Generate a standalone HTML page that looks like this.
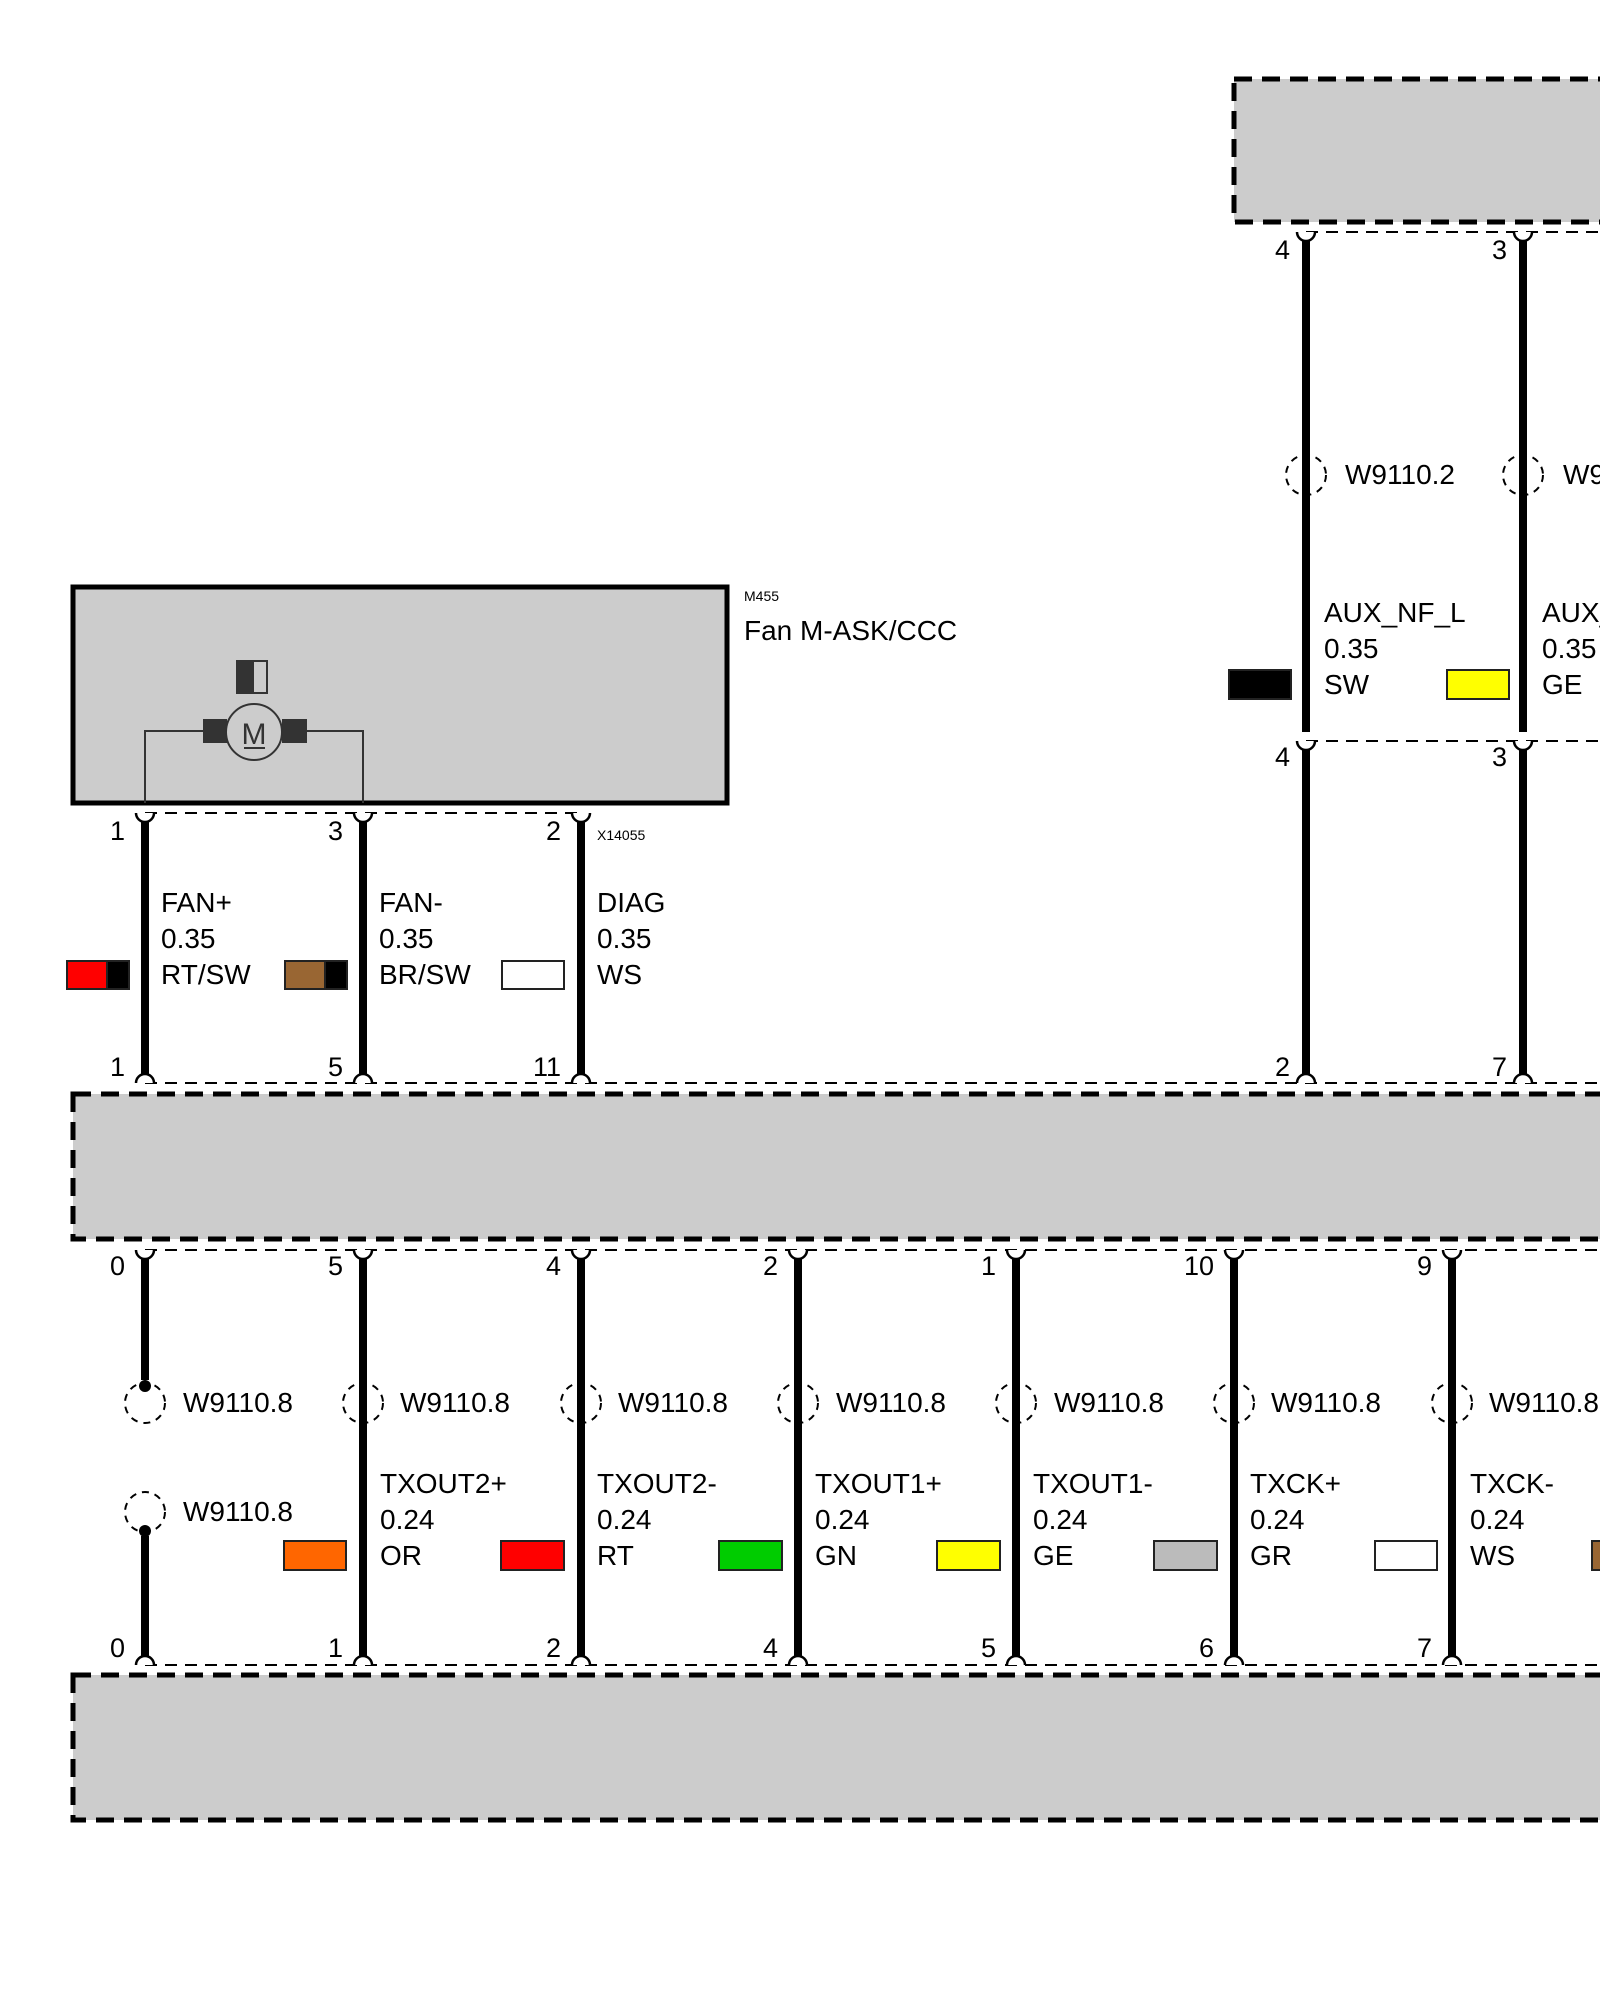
<!DOCTYPE html>
<html><head><meta charset="utf-8">
<style>
html,body{margin:0;padding:0;background:#fff;overflow:hidden;width:1600px;height:2000px}
svg text{font-family:"Liberation Sans",Arial,sans-serif;fill:#000}
</style></head>
<body>
<svg width="1600" height="2000" viewBox="0 0 1600 2000" xmlns="http://www.w3.org/2000/svg">
<rect x="1234" y="79" width="400" height="143" fill="#cccccc" stroke="#000" stroke-width="5" stroke-dasharray="18,10"/>
<rect x="73" y="587" width="654" height="216" fill="#cccccc" stroke="#000" stroke-width="5"/>
<rect x="73" y="1094" width="1600" height="145" fill="#cccccc" stroke="#000" stroke-width="5" stroke-dasharray="18,10"/>
<rect x="73" y="1675" width="1600" height="145" fill="#cccccc" stroke="#000" stroke-width="5" stroke-dasharray="18,10"/>

<g stroke="#000" stroke-width="2" stroke-dasharray="12,8" fill="none">
<line x1="1306" y1="232" x2="1600" y2="232"/>
<line x1="1306" y1="741" x2="1600" y2="741"/>
<line x1="145" y1="813" x2="581" y2="813"/>
<line x1="145" y1="1083" x2="1600" y2="1083"/>
<line x1="145" y1="1250" x2="1600" y2="1250"/>
<line x1="145" y1="1665" x2="1600" y2="1665"/>
</g>

<g stroke="#333" stroke-width="2" fill="none">
<polyline points="145,803 145,731 203,731"/>
<polyline points="307,731 363,731 363,803"/>
</g>
<rect x="203" y="719" width="24" height="24" fill="#333"/>
<rect x="282" y="719" width="25" height="24" fill="#333"/>
<circle cx="254" cy="732" r="28" fill="#cccccc" stroke="#333" stroke-width="2"/>
<text x="254" y="744" font-size="30" text-anchor="middle" style="fill:#333">M</text>
<line x1="244" y1="748" x2="265" y2="748" stroke="#333" stroke-width="2"/>
<rect x="236" y="660" width="17" height="34" fill="#333"/>
<rect x="253" y="661" width="14" height="32" fill="none" stroke="#333" stroke-width="2"/>

<g stroke="#000" stroke-width="8">
<line x1="1306" y1="234" x2="1306" y2="732"/>
<line x1="1523" y1="234" x2="1523" y2="732"/>
<line x1="1306" y1="744" x2="1306" y2="1080"/>
<line x1="1523" y1="744" x2="1523" y2="1080"/>
<line x1="145" y1="816" x2="145" y2="1080"/>
<line x1="363" y1="816" x2="363" y2="1080"/>
<line x1="581" y1="816" x2="581" y2="1080"/>
<line x1="145" y1="1253" x2="145" y2="1380"/>
<line x1="145" y1="1536" x2="145" y2="1662"/>
<line x1="363" y1="1253" x2="363" y2="1662"/>
<line x1="581" y1="1253" x2="581" y2="1662"/>
<line x1="798" y1="1253" x2="798" y2="1662"/>
<line x1="1016" y1="1253" x2="1016" y2="1662"/>
<line x1="1234" y1="1253" x2="1234" y2="1662"/>
<line x1="1452" y1="1253" x2="1452" y2="1662"/>
</g>

<g fill="#fff" stroke="#000" stroke-width="2.5">
<path d="M1297,232 A9,9 0 0 0 1315,232"/><path d="M1514,232 A9,9 0 0 0 1532,232"/>
<path d="M1297,741 A9,9 0 0 0 1315,741"/><path d="M1514,741 A9,9 0 0 0 1532,741"/>
<path d="M136,813 A9,9 0 0 0 154,813"/><path d="M354,813 A9,9 0 0 0 372,813"/><path d="M572,813 A9,9 0 0 0 590,813"/>
<path d="M136,1083 A9,9 0 0 1 154,1083"/><path d="M354,1083 A9,9 0 0 1 372,1083"/><path d="M572,1083 A9,9 0 0 1 590,1083"/>
<path d="M1297,1083 A9,9 0 0 1 1315,1083"/><path d="M1514,1083 A9,9 0 0 1 1532,1083"/>
<path d="M136,1250 A9,9 0 0 0 154,1250"/><path d="M354,1250 A9,9 0 0 0 372,1250"/><path d="M572,1250 A9,9 0 0 0 590,1250"/><path d="M789,1250 A9,9 0 0 0 807,1250"/><path d="M1007,1250 A9,9 0 0 0 1025,1250"/><path d="M1225,1250 A9,9 0 0 0 1243,1250"/><path d="M1443,1250 A9,9 0 0 0 1461,1250"/>
<path d="M136,1665 A9,9 0 0 1 154,1665"/><path d="M354,1665 A9,9 0 0 1 372,1665"/><path d="M572,1665 A9,9 0 0 1 590,1665"/><path d="M789,1665 A9,9 0 0 1 807,1665"/><path d="M1007,1665 A9,9 0 0 1 1025,1665"/><path d="M1225,1665 A9,9 0 0 1 1243,1665"/><path d="M1443,1665 A9,9 0 0 1 1461,1665"/>
</g>

<g fill="none" stroke="#000" stroke-width="2" stroke-dasharray="7,6">
<circle cx="1306" cy="475" r="20"/><circle cx="1523" cy="475" r="20"/>
<circle cx="145" cy="1403" r="20"/><circle cx="145" cy="1512" r="20"/>
<circle cx="363" cy="1403" r="20"/><circle cx="581" cy="1403" r="20"/><circle cx="798" cy="1403" r="20"/><circle cx="1016" cy="1403" r="20"/><circle cx="1234" cy="1403" r="20"/><circle cx="1452" cy="1403" r="20"/>
</g>
<circle cx="145" cy="1386" r="6" fill="#000"/>
<circle cx="145" cy="1531" r="6" fill="#000"/>

<g stroke="#222" stroke-width="2">
<rect x="1229" y="670" width="62" height="29" fill="#000"/>
<rect x="1447" y="670" width="62" height="29" fill="#ffff00"/>
<rect x="67" y="961" width="40" height="28" fill="#ff0000"/><rect x="107" y="961" width="22" height="28" fill="#000"/>
<rect x="285" y="961" width="40" height="28" fill="#996633"/><rect x="325" y="961" width="22" height="28" fill="#000"/>
<rect x="502" y="961" width="62" height="28" fill="#fff"/>
<rect x="284" y="1541" width="62" height="29" fill="#ff6600"/>
<rect x="501" y="1541" width="63" height="29" fill="#ff0000"/>
<rect x="719" y="1541" width="63" height="29" fill="#00cc00"/>
<rect x="937" y="1541" width="63" height="29" fill="#ffff00"/>
<rect x="1154" y="1541" width="63" height="29" fill="#bbbbbb"/>
<rect x="1375" y="1541" width="62" height="29" fill="#fff"/>
<rect x="1592" y="1541" width="62" height="29" fill="#996633"/>
</g>

<g font-size="28">
<text x="744" y="640">Fan M-ASK/CCC</text>
<text x="1345" y="484">W9110.2</text><text x="1563" y="484">W9110.2</text>
<text x="1324" y="622">AUX_NF_L</text><text x="1324" y="658">0.35</text><text x="1324" y="694">SW</text>
<text x="1542" y="622">AUX_NF_R</text><text x="1542" y="658">0.35</text><text x="1542" y="694">GE</text>
<text x="161" y="912">FAN+</text><text x="161" y="948">0.35</text><text x="161" y="984">RT/SW</text>
<text x="379" y="912">FAN-</text><text x="379" y="948">0.35</text><text x="379" y="984">BR/SW</text>
<text x="597" y="912">DIAG</text><text x="597" y="948">0.35</text><text x="597" y="984">WS</text>
<text x="183" y="1412">W9110.8</text><text x="183" y="1521">W9110.8</text>
<text x="400" y="1412">W9110.8</text><text x="618" y="1412">W9110.8</text><text x="836" y="1412">W9110.8</text><text x="1054" y="1412">W9110.8</text><text x="1271" y="1412">W9110.8</text><text x="1489" y="1412">W9110.8</text>
<text x="380" y="1493">TXOUT2+</text><text x="380" y="1529">0.24</text><text x="380" y="1565">OR</text>
<text x="597" y="1493">TXOUT2-</text><text x="597" y="1529">0.24</text><text x="597" y="1565">RT</text>
<text x="815" y="1493">TXOUT1+</text><text x="815" y="1529">0.24</text><text x="815" y="1565">GN</text>
<text x="1033" y="1493">TXOUT1-</text><text x="1033" y="1529">0.24</text><text x="1033" y="1565">GE</text>
<text x="1250" y="1493">TXCK+</text><text x="1250" y="1529">0.24</text><text x="1250" y="1565">GR</text>
<text x="1470" y="1493">TXCK-</text><text x="1470" y="1529">0.24</text><text x="1470" y="1565">WS</text>
</g>
<g font-size="14"><text x="744" y="601">M455</text><text x="597" y="840">X14055</text></g>
<g font-size="27" text-anchor="end">
<text x="1290" y="259">4</text><text x="1507" y="259">3</text>
<text x="1290" y="766">4</text><text x="1507" y="766">3</text>
<text x="125" y="840">1</text><text x="343" y="840">3</text><text x="561" y="840">2</text>
<text x="125" y="1076">1</text><text x="343" y="1076">5</text><text x="561" y="1076">11</text>
<text x="1290" y="1076">2</text><text x="1507" y="1076">7</text>
<text x="125" y="1275">0</text><text x="343" y="1275">5</text><text x="561" y="1275">4</text><text x="778" y="1275">2</text><text x="996" y="1275">1</text><text x="1214" y="1275">10</text><text x="1432" y="1275">9</text>
<text x="125" y="1657">0</text><text x="343" y="1657">1</text><text x="561" y="1657">2</text><text x="778" y="1657">4</text><text x="996" y="1657">5</text><text x="1214" y="1657">6</text><text x="1432" y="1657">7</text>
</g>
</svg>
</body></html>
